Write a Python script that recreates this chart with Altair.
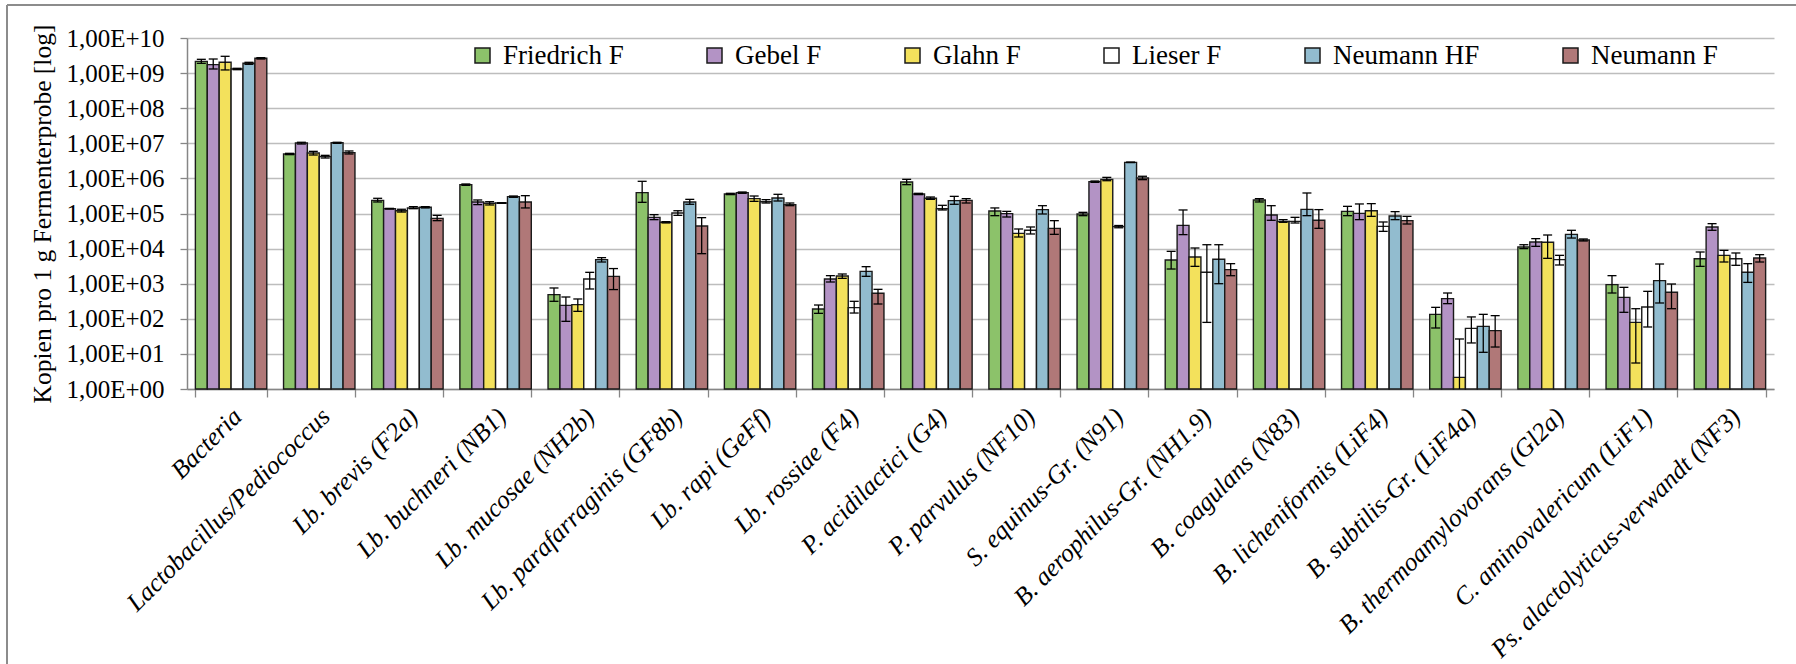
import json

import altair as alt
import pandas as pd

# Target groups (x axis, in drawing order)
categories = [
    "Bacteria",
    "Lactobacillus/Pediococcus",
    "Lb. brevis (F2a)",
    "Lb. buchneri (NB1)",
    "Lb. mucosae (NH2b)",
    "Lb. parafarraginis (GF8b)",
    "Lb. rapi (GeFf)",
    "Lb. rossiae (F4)",
    "P. acidilactici (G4)",
    "P. parvulus (NF10)",
    "S. equinus-Gr. (N91)",
    "B. aerophilus-Gr. (NH1.9)",
    "B. coagulans (N83)",
    "B. licheniformis (LiF4)",
    "B. subtilis-Gr. (LiF4a)",
    "B. thermoamylovorans (Gl2a)",
    "C. aminovalericum (LiF1)",
    "Ps. alactolyticus-verwandt (NF3)",
]

series_names = ["Friedrich F", "Gebel F", "Glahn F", "Lieser F", "Neumann HF", "Neumann F"]
series_colors = ["#8cc26a", "#b393c5", "#f3e15c", "#ffffff", "#92bccf", "#b07878"]

# Copies per 1 g fermenter sample (mean, lower and upper end of the error bar)
friedrich_vals = [2.16e9, 4.96e6, 2.37e5, 6.63e5, 487, 3.93e5, 3.60e5, 190, 7.90e5, 1.18e5, 9.68e4, 4.73e3, 2.43e5, 1.15e5, 134, 1.11e4, 939, 5.16e3]
friedrich_lo = [1.90e9, 4.75e6, 2.13e5, 6.35e5, 315, 2.08e5, 3.45e5, 143, 6.63e5, 8.67e4, 8.67e4, 2.62e3, 2.13e5, 8.67e4, 54.7, 9.96e3, 543, 3.12e3]
friedrich_hi = [2.47e9, 5.18e6, 2.71e5, 6.93e5, 755, 8.26e5, 3.76e5, 247, 9.40e5, 1.44e5, 1.08e5, 8.36e3, 2.65e5, 1.60e5, 212, 1.29e4, 1694, 8.0e3]

gebel_vals = [1.74e9, 1.02e7, 1.37e5, 2.13e5, 242, 7.78e4, 3.93e5, 1361, 3.60e5, 9.9e4, 8.07e5, 4.60e4, 9.06e4, 1.01e5, 375, 1.54e4, 409, 4.13e4]
gebel_lo = [1.31e9, 9.55e6, 1.34e5, 1.79e5, 84.7, 6.68e4, 3.76e5, 1118, 3.45e5, 7.95e4, 7.73e5, 2.5e4, 6.4e4, 6.68e4, 270, 1.16e4, 153, 3.32e4]
gebel_hi = [2.52e9, 1.07e7, 1.40e5, 2.43e5, 418, 9.27e4, 4.10e5, 1694, 3.76e5, 1.15e5, 8.43e5, 1.26e5, 1.67e5, 1.87e5, 543, 1.92e4, 788, 5.13e4]

glahn_vals = [2.03e9, 5.30e6, 1.20e5, 1.95e5, 253, 5.61e4, 2.65e5, 1656, 2.71e5, 2.72e4, 9.4e5, 5.77e3, 5.98e4, 1.20e5, 2.15, 1.51e4, 79.3, 6.43e3]
glahn_lo = [1.23e9, 4.64e6, 1.10e5, 1.75e5, 163, 5.38e4, 2.22e5, 1422, 2.53e5, 2.14e4, 8.6e5, 3.12e3, 5.61e4, 8.3e4, 1, 5.28e3, 5.5, 4.15e3]
glahn_hi = [3.01e9, 5.90e6, 1.32e5, 2.17e5, 367, 5.85e4, 3.15e5, 1890, 2.95e5, 3.62e4, 1.07e6, 1.04e4, 6.68e4, 1.91e5, 26.6, 2.44e4, 194, 8.93e3]

lieser_vals = [1.31e9, 4.16e6, 1.44e5, 1.99e5, 1361, 1.03e5, 2.17e5, 208, 1.37e5, 3.32e4, 4.22e4, 2.11e3, 5.98e4, 4.31e4, 53.5, 4.84e3, 217, 5.16e3]
lieser_lo = [1.25e9, 3.81e6, 1.37e5, 1.95e5, 707, 8.87e4, 1.99e5, 146, 1.26e5, 2.61e4, 3.92e4, 79, 5.36e4, 3.10e4, 20.5, 3.41e3, 58.4, 3.34e3]
lieser_hi = [1.37e9, 4.54e6, 1.57e5, 2.03e5, 2109, 1.20e5, 2.48e5, 315, 1.71e5, 4.13e4, 4.55e4, 1.29e4, 7.78e4, 5.73e4, 113, 6.43e3, 606, 7.5e3]

neumann_hf_vals = [1.90e9, 1.04e7, 1.50e5, 3.02e5, 4840, 2.13e5, 2.77e5, 2250, 2.32e5, 1.29e5, 2.87e6, 4.95e3, 1.31e5, 8.49e4, 61, 2.55e4, 1220, 2.11e3]
neumann_hf_lo = [1.78e9, 9.98e6, 1.44e5, 2.89e5, 4150, 1.83e5, 2.27e5, 1622, 1.83e5, 9.68e4, 2.82e6, 1.0e3, 8.67e4, 6.68e4, 11.1, 2.0e4, 282, 1.09e3]
neumann_hf_hi = [2.03e9, 1.07e7, 1.57e5, 3.15e5, 5520, 2.53e5, 3.52e5, 3055, 3.08e5, 1.67e5, 2.92e6, 1.29e4, 3.84e5, 1.13e5, 134, 3.32e4, 3640, 3.72e3]

neumann_f_vals = [2.64e9, 5.41e6, 7.28e4, 2.13e5, 1622, 4.40e4, 1.79e5, 532, 2.37e5, 3.78e4, 1.03e6, 2.51e3, 6.4e4, 6.25e4, 45.9, 1.76e4, 568, 5.40e3]
neumann_f_lo = [2.52e9, 4.96e6, 6.25e4, 1.44e5, 680, 7.17e3, 1.67e5, 264, 1.99e5, 2.55e4, 9.2e5, 1.69e3, 3.78e4, 5.02e4, 15.7, 1.65e4, 194, 4.15e3]
neumann_f_hi = [2.75e9, 6.04e6, 8.87e4, 3.22e5, 2700, 7.61e4, 1.99e5, 691, 2.65e5, 6.25e4, 1.15e6, 3.72e3, 1.29e5, 8.3e4, 123, 1.88e4, 980, 6.71e3]

tick_values = [1e0, 1e1, 1e2, 1e3, 1e4, 1e5, 1e6, 1e7, 1e8, 1e9, 1e10]
tick_labels = ["1,00E+00", "1,00E+01", "1,00E+02", "1,00E+03", "1,00E+04", "1,00E+05",
               "1,00E+06", "1,00E+07", "1,00E+08", "1,00E+09", "1,00E+10"]

series_data = [
    (friedrich_vals, friedrich_lo, friedrich_hi),
    (gebel_vals, gebel_lo, gebel_hi),
    (glahn_vals, glahn_lo, glahn_hi),
    (lieser_vals, lieser_lo, lieser_hi),
    (neumann_hf_vals, neumann_hf_lo, neumann_hf_hi),
    (neumann_f_vals, neumann_f_lo, neumann_f_hi),
]

rows = []
for name, (vals, lows, highs) in zip(series_names, series_data):
    for cat, v, lo, hi in zip(categories, vals, lows, highs):
        rows.append({"category": cat, "series": name, "value": v, "low": lo, "high": hi})
df = pd.DataFrame(rows)

FONT = "Liberation Serif, serif"
AXIS_GREY = "#868686"
Y_TITLE = "Kopien pro 1 g Fermenterprobe [log]"

x_enc = alt.X(
    "category:N",
    sort=categories,
    title=None,
    scale=alt.Scale(paddingInner=0.19, paddingOuter=0.095),
    axis=alt.Axis(
        labelAngle=-45,
        labelAlign="right",
        labelBaseline="middle",
        labelFont=FONT,
        labelFontStyle="italic",
        labelFontSize=25.5,
        labelColor="black",
        labelPadding=15,
        labelOffset=6,
        labelLimit=600,
        domainColor=AXIS_GREY,
        domainWidth=1.5,
        tickColor=AXIS_GREY,
        tickWidth=1.3,
        tickSize=8,
        tickBand="extent",
        grid=False,
    ),
)
x_off = alt.XOffset("series:N", sort=series_names, scale=alt.Scale(paddingInner=0, paddingOuter=0))
y_scale = alt.Scale(type="log", domain=[1, 1e10], nice=False)

label_expr = json.dumps(tick_labels) + "[round(log(datum.value) / LN10)]"

y_axis = alt.Axis(
    values=tick_values,
    labelExpr=label_expr,
    grid=True,
    gridColor="#bdbdbd",
    gridWidth=1.3,
    domainColor=AXIS_GREY,
    domainWidth=1.5,
    tickColor=AXIS_GREY,
    tickWidth=1.3,
    tickSize=7,
    labelFont=FONT,
    labelFontSize=25,
    labelColor="black",
    labelPadding=16,
    titleFont=FONT,
    titleFontSize=25.5,
    titleFontWeight="normal",
    titleColor="black",
    titlePadding=10,
)


def y_channel(field):
    return alt.Y(field, type="quantitative", scale=y_scale, axis=y_axis, title=Y_TITLE)


legend = alt.Legend(
    title=None,
    orient="none",
    legendX=282,
    legendY=4,
    direction="horizontal",
    columns=6,
    gridAlign="none",
    symbolType="square",
    symbolSize=225,
    symbolStrokeColor="#1a1a1a",
    symbolStrokeWidth=1.5,
    symbolOpacity=1,
    labelFont=FONT,
    labelFontSize=27,
    labelFontWeight="normal",
    labelFontStyle="normal",
    labelColor="black",
    labelOffset=7,
    labelLimit=400,
    columnPadding=77,
    padding=0,
)

base = alt.Chart(df)

bars = base.mark_bar(stroke="#1a1a1a", strokeWidth=1.4, opacity=1).encode(
    x=x_enc,
    xOffset=x_off,
    y=y_channel("value"),
    y2=alt.datum(1),
    color=alt.Color(
        "series:N",
        sort=series_names,
        scale=alt.Scale(domain=series_names, range=series_colors),
        legend=legend,
    ),
)

whiskers = base.mark_rule(color="black", strokeWidth=1.3).encode(
    x=x_enc,
    xOffset=x_off,
    y=y_channel("low"),
    y2="high:Q",
)

caps_high = base.mark_tick(color="black", thickness=1.3, size=9, opacity=1).encode(
    x=x_enc,
    xOffset=x_off,
    y=y_channel("high"),
)

caps_low = base.transform_filter("datum.low > 1").mark_tick(
    color="black", thickness=1.3, size=9, opacity=1
).encode(
    x=x_enc,
    xOffset=x_off,
    y=y_channel("low"),
)

# Outer chart frame (top and left edges)
frame_src = pd.DataFrame({"edge": [0]})
frame_top = alt.Chart(frame_src).mark_rule(color="#8c8c8c", strokeWidth=2).encode(
    x=alt.value(-180), x2=alt.value(1620), y=alt.value(-33)
)
frame_left = alt.Chart(frame_src).mark_rule(color="#8c8c8c", strokeWidth=2).encode(
    x=alt.value(-180), y=alt.value(-33), y2=alt.value(640)
)

chart = (
    alt.layer(bars, whiskers, caps_high, caps_low, frame_top, frame_left)
    .properties(
        width=1587,
        height=351,
        autosize=alt.AutoSizeParams(type="none"),
        padding={"left": 187, "top": 38, "right": 22, "bottom": 275},
        background="white",
    )
    .configure(
        font=FONT,
        style={
            "guide-label": {"font": FONT},
            "guide-title": {"font": FONT},
        },
    )
    .configure_view(stroke=None)
    .configure_legend(labelFont=FONT, labelFontSize=27, labelColor="black")
)

chart.save("out.html", embed_options={"renderer": "svg", "actions": False})
